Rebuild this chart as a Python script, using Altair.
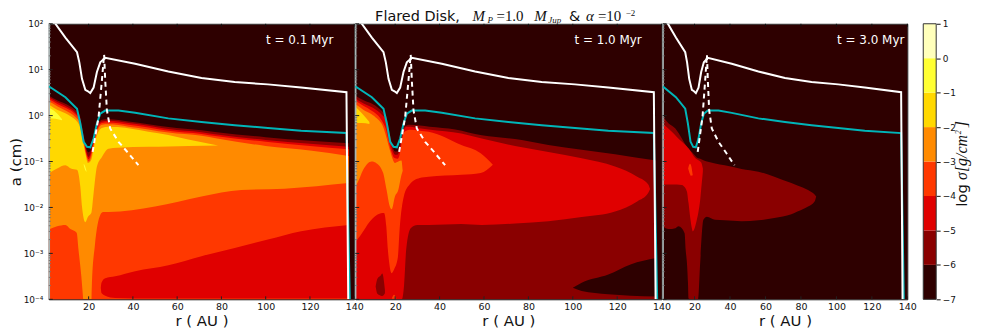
import altair as alt
import pandas as pd

# ---- colour levels of the colour bar (log sigma) ----
LEVELS = [-7, -6, -5, -4, -3, -2, -1, 0, 1]
C_BG, C_6, C_5, C_4, C_3, C_2, C_1, C_0 = ("#2e0000", "#8a0000", "#e00000", "#ff3800",
                                           "#ff8a00", "#ffd800", "#ffff33", "#ffffbb")
BAND_COLOURS = [C_BG, C_6, C_5, C_4, C_3, C_2, C_1, C_0]

# ---- lines (same in all panels): r in AU, log10 a in cm ----
WHITE_R = [4.6, 5, 9.5, 14.75, 15.8, 17, 18.5, 19.7, 20.75, 22.25, 23.75, 25.25, 27.5, 41, 56, 71, 86, 101, 116, 136.5, 137.3]
WHITE_A = [2.05, 2.0, 1.70, 1.38, 1.16, 0.80, 0.56, 0.53, 0.49, 0.61, 0.95, 1.16, 1.26, 1.13, 0.96, 0.82, 0.73, 0.68, 0.61, 0.51, -4]
TEAL_R = [2, 9.5, 14.75, 16.25, 17.75, 19.25, 20.75, 22.25, 23.75, 25.25, 27.5, 33.5, 41, 56, 71, 86, 101, 116, 136.5, 138]
TEAL_A = [0.64, 0.40, 0.15, -0.17, -0.57, -0.68, -0.69, -0.5, -0.17, 0.04, 0.11, 0.11, 0.06, -0.06, -0.14, -0.21, -0.27, -0.33, -0.38, -4]
DASH_R = [21.8, 24.5, 26, 27, 27.5, 28.25, 29.75, 33.5, 38, 42.5]
DASH_A = [-0.79, -0.03, 0.77, 1.33, 0.77, 0.12, -0.28, -0.57, -0.82, -1.08]

# ---- panel 1 (t = 0.1 Myr) ----
P1_R = [2, 6, 10, 14, 16, 17, 18, 19, 20, 21, 22, 23, 24, 26, 29, 38, 47, 56, 71, 78, 100, 120, 137.5]
P1_L6 = [.44, .33, .25, .12, .0, -.25, -.5, -.72, -.80, -.74, -.55, -.35, -.2, -.09, -.08, -.13, -.19, -.25, -.32, -.36, -.47, -.55, -.60]
P1_L5 = [.40, .29, .2, .07, -.05, -.3, -.55, -.78, -.9, -.8, -.6, -.4, -.24, -.13, -.11, -.16, -.22, -.29, -.36, -.41, -.53, -.61, -.68]
P1_L4 = [.36, .25, .16, .03, -.1, -.35, -.6, -.83, -.95, -.86, -.65, -.45, -.28, -.16, -.15, -.2, -.26, -.33, -.40, -.45, -.57, -.66, -.73]
P1_L3 = [.31, .2, .1, -.03, -.15, -.4, -.65, -.88, -1.0, -.92, -.7, -.5, -.33, -.2, -.19, -.24, -.3, -.37, -.44, -.5, -.66, -.76, -.88]
P1_G_R = [2, 5.75, 9.5, 12, 14.75, 16.25, 17, 18.5, 19.7, 21.2, 22.25, 23.75, 26, 29, 33, 47, 56, 65, 78.5]
P1_G_T = [.24, .13, .05, -.02, -.13, -.27, -.45, -.82, -1.03, -.96, -.72, -.43, -.27, -.24, -.25, -.35, -.42, -.52, -.65]
P1_G_B = [-1.26, -1.15, -1.08, -1.15, -1.18, -1.55, -1.98, -2.32, -2.2, -2.12, -1.69, -1.11, -.9, -.72, -.70, -.68, -.67, -.66, -.65]
P1_Y_R = [2, 5, 8]
P1_Y_T = [.17, .08, -.08]
P1_Y_B = [-.05, -.07, -.10]
P1_Y2_R = [17.8, 18.4, 19]
P1_Y2_T = [-1.05, -1.1, -1.2]
P1_Y2_B = [-1.08, -1.18, -1.23]
P1_LL_R = [2, 5.75, 9.5, 11.75, 14.6, 15.4, 16.7, 17.5]
P1_LL_T = [-2.48, -2.41, -2.38, -2.47, -2.55, -2.91, -3.5, -3.98]
P1_RL_R = [21.3, 21.5, 22.8, 25.3, 26.5, 29, 50, 71, 89, 108.5, 137.5]
P1_RL_T = [-3.98, -3.63, -2.84, -2.16, -2.1, -2.1, -1.98, -1.76, -1.62, -1.59, -1.47]
P1_RD_R = [25.5, 25.8, 27.5, 32, 41, 56, 71, 86, 101, 116, 137.5]
P1_RD_T = [-3.75, -3.64, -3.54, -3.5, -3.39, -3.26, -3.06, -2.88, -2.7, -2.52, -2.38]
P1_RD_B = [-3.75, -3.86, -3.92, -3.97, -3.98, -3.98, -3.98, -3.98, -3.98, -3.98, -3.98]

# ---- panel 2 (t = 1.0 Myr) ----
P2_L6_R = [2, 6, 10, 14, 16, 17, 18, 19, 20, 21, 22, 23, 24, 26.6, 35.5, 47, 59, 77, 89, 119, 137.5]
P2_L6_T = [.44, .33, .25, .1, -.02, -.25, -.5, -.7, -.78, -.78, -.65, -.4, -.24, -.2, -.24, -.30, -.43, -.53, -.64, -.84, -.98]
P2_L5_R = [2, 6, 10, 14, 16, 17, 18, 19, 20, 21, 22, 23, 24, 25, 27, 30, 35, 49.8, 59, 74, 89, 104, 119, 129, 134, 134.8]
P2_L5_T = [.38, .26, .17, .02, -.1, -.35, -.6, -.78, -.85, -.85, -.75, -.5, -.3, -.24, -.24, -.27, -.3, -.39, -.5, -.66, -.79, -.93, -1.11, -1.33, -1.5, -1.6]
P2_L5_B = [-4, -4, -4, -4, -4, -4, -4, -4, -4, -4, -4, -4, -3.7, -2.9, -2.45, -2.38, -2.38, -2.36, -2.38, -2.35, -2.30, -2.21, -2.09, -1.87, -1.68, -1.6]
P2_L4_R = [2, 4.2, 8.7, 13.2, 15, 16, 16.7, 17.3, 18.4, 19.5, 21.2, 22, 23.9, 26.5, 31, 35, 49.8, 58.5, 64]
P2_L4_T = [.33, .26, .13, -.05, -.2, -.33, -.48, -.6, -.8, -.92, -.94, -.85, -.37, -.31, -.33, -.35, -.64, -.82, -1.07]
P2_L4_B = [-2.75, -2.62, -2.3, -2.13, -2.12, -2.41, -2.91, -3.2, -3.43, -3.35, -3.09, -2.48, -1.76, -1.5, -1.36, -1.33, -1.29, -1.25, -1.07]
P2_L3_R = [2, 3, 5.6, 9.4, 11.7, 14.6, 16.1, 17.6, 18.4, 19.9, 21.4, 22.8, 23.4]
P2_L3_T = [.25, .22, .13, .03, -.06, -.25, -.48, -.75, -.88, -1.03, -1.0, -.98, -1.2]
P2_L3_B = [-1.54, -1.47, -1.18, -1.0, -1.04, -1.25, -1.61, -1.98, -2.04, -1.76, -1.62, -1.3, -1.2]
P2_L2_R = [2, 5, 8.4]
P2_L2_T = [.2, .05, -.14]
P2_L2_B = [-.16, -.16, -.18]
P2_IS_R = [11.2, 12, 13.5, 14.2, 15.4]
P2_IS_T = [-3.72, -3.55, -3.48, -3.44, -3.8]
P2_IS_B = [-3.72, -3.88, -3.92, -3.93, -3.87]
P2_OS_R = [18.5, 19.5, 20.5]
P2_OS_T = [-3.98, -3.9, -3.98]
P2_OS_B = [-3.99, -3.99, -3.99]
P2_DK_R = [100, 104, 116, 126, 137.5]
P2_DK_T = [-3.75, -3.64, -3.46, -3.24, -3.1]
P2_DK_B = [-3.75, -3.82, -3.89, -3.92, -3.94]

# ---- panel 3 (t = 3.0 Myr) ----
P3_L6_R = [2, 5.4, 9.2, 11, 14.4, 15, 15.7, 16.3, 16.6, 18.5, 22, 23.2, 25, 27, 31.6, 37, 46.5, 56, 65, 74.6, 78, 84, 87.7, 88.6]
P3_L6_T = [-.01, -.17, -.28, -.38, -.6, -.64, -.68, -.72, -.73, -.79, -.93, -.94, -.97, -1.0, -1.04, -1.08, -1.16, -1.22, -1.33, -1.47, -1.52, -1.62, -1.72, -1.76]
P3_L6_B = [-2.41, -2.47, -2.45, -2.41, -2.56, -2.92, -3.2, -3.64, -3.98, -4, -4, -3.2, -2.27, -2.2, -2.27, -2.28, -2.30, -2.28, -2.23, -2.15, -2.09, -1.98, -1.87, -1.76]
P3_L5_R = [2, 7.2, 12.9, 13.8, 15.7, 16.6, 17.5, 18.5, 19, 21.3, 22.2, 23.2, 24, 24.7]
P3_L5_T = [-.17, -.35, -.57, -.6, -.67, -.71, -.76, -.82, -.85, -.95, -.97, -1.0, -1.04, -1.15]
P3_L5_B = [-1.5, -1.5, -1.51, -1.53, -1.65, -1.9, -2.2, -2.45, -2.52, -2.27, -2.1, -1.83, -1.5, -1.22]
P3_L4_R = [16.4, 17.4, 18, 19]
P3_L4_T = [-1.15, -1.05, -1.08, -1.3]
P3_L4_B = [-1.15, -1.27, -1.31, -1.3]

FLOOR = -4
TIME_LABELS = ["t = 0.1 Myr", "t = 1.0 Myr", "t = 3.0 Myr"]
R_TICKS = [20, 40, 60, 80, 100, 120, 140]
A_TICKS = [1e-4, 1e-3, 1e-2, 1e-1, 1, 10, 100]
A_MINOR = [m * d for d in [1e-4, 1e-3, 1e-2, 1e-1, 1, 10] for m in [2, 3, 4, 5, 6, 7, 8, 9]]

# ---- layout ----
H = 277
WIDTHS = [307, 308, 246]
TIME_RIGHT = [286, 288, 243]
FONT = "DejaVu Sans"
MATH = "Liberation Serif"
x_scale = alt.Scale(domain=[2, 140], nice=False)
y_scale = alt.Scale(type="log", domain=[1e-4, 100], nice=False)
AXIS_EXPR = ("{'-4':'10⁻⁴','-3':'10⁻³','-2':'10⁻²','-1':'10⁻¹','0':'10⁰','1':'10¹','2':'10²'}"
             "['' + round(log(datum.value) / LN10)]")


def band(spec, xa, ya):
    rs, top, bottom, colour = spec
    bot = bottom if isinstance(bottom, list) else [bottom] * len(rs)
    df = pd.DataFrame({"r": rs, "a": [10.0 ** v for v in top], "a2": [10.0 ** v for v in bot]})
    return alt.Chart(df).mark_area(color=colour, orient="vertical", clip=True, interpolate="monotone", opacity=1).encode(
        x=alt.X("r:Q", scale=x_scale, axis=xa),
        y=alt.Y("a:Q", scale=y_scale, axis=ya),
        y2="a2:Q",
    )


def curve(rs, vals, colour, xa, ya, dash=None):
    df = pd.DataFrame({"r": rs, "a": [10.0 ** v for v in vals], "i": list(range(len(rs)))})
    kw = {"strokeDash": dash} if dash else {}
    return alt.Chart(df).mark_line(color=colour, strokeWidth=2, clip=True, **kw).encode(
        x=alt.X("r:Q", scale=x_scale, axis=xa),
        y=alt.Y("a:Q", scale=y_scale, axis=ya),
        order="i:Q",
    )


def label(text, x, y, size, font=FONT, style=None, angle=None, colour="#111111", align="left", base="alphabetic"):
    kw = {}
    if style:
        kw["fontStyle"] = style
    if angle is not None:
        kw["angle"] = angle
    return alt.Chart(pd.DataFrame({"t": [text]})).mark_text(
        font=font, fontSize=size, color=colour, align=align, baseline=base, **kw
    ).encode(x=alt.value(x), y=alt.value(y), text="t:N")


def frame(xa, ya):
    dfx = pd.DataFrame({"r": R_TICKS})
    dfy = pd.DataFrame({"a": A_TICKS})
    dfm = pd.DataFrame({"a": A_MINOR})
    xe = alt.X("r:Q", scale=x_scale, axis=xa)
    ye = alt.Y("a:Q", scale=y_scale, axis=ya)
    one = pd.DataFrame({"k": [0]})
    return [
        alt.Chart(dfx).mark_rule(color="#222222", strokeWidth=1).encode(x=xe, y=alt.value(H), y2=alt.value(H - 3)),
        alt.Chart(dfx).mark_rule(color="#111111", strokeWidth=1).encode(x=xe, y=alt.value(0), y2=alt.value(3)),
        alt.Chart(one).mark_rule(color="#a8b4b4", strokeWidth=1.5).encode(x=alt.value(0.5), y=alt.value(0), y2=alt.value(H)),
        alt.Chart(dfm).mark_rule(color="#777777", strokeWidth=1).encode(y=ye, x=alt.value(0), x2=alt.value(2)),
        alt.Chart(dfy).mark_rule(color="#222222", strokeWidth=1).encode(y=ye, x=alt.value(0), x2=alt.value(4)),
    ]


x_axis = alt.Axis(values=R_TICKS, title="r ( AU )", titleFont=FONT, titleFontSize=15, titleFontWeight="normal",
                  titleColor="#111111", titlePadding=3, labelFont=FONT, labelFontSize=9.5, labelColor="#111111",
                  labelPadding=2, labelOverlap=False, labelBound=False, labelFlush=False, ticks=False, domain=False,
                  grid=False, format="d")
y_axis = alt.Axis(values=A_TICKS, title="a (cm)", titleFont=FONT, titleFontSize=15, titleFontWeight="normal",
                  titleColor="#111111", titlePadding=0, labelFont=FONT, labelFontSize=9, labelColor="#111111",
                  labelPadding=6, labelOverlap=False, labelBound=False, labelFlush=False, ticks=False, domain=False,
                  grid=False, labelExpr=AXIS_EXPR)

p1_bands = [
    (P1_R, P1_L6, FLOOR, C_6),
    (P1_R, P1_L5, FLOOR, C_5),
    (P1_R, P1_L4, FLOOR, C_4),
    (P1_R, P1_L3, FLOOR, C_3),
    (P1_G_R, P1_G_T, P1_G_B, C_2),
    (P1_Y_R, P1_Y_T, P1_Y_B, C_1),
    (P1_Y2_R, P1_Y2_T, P1_Y2_B, C_1),
    (P1_LL_R, P1_LL_T, FLOOR, C_4),
    (P1_RL_R, P1_RL_T, FLOOR, C_4),
    (P1_RD_R, P1_RD_T, P1_RD_B, C_5),
]
p2_bands = [
    (P2_L6_R, P2_L6_T, FLOOR, C_6),
    (P2_L5_R, P2_L5_T, P2_L5_B, C_5),
    (P2_L4_R, P2_L4_T, P2_L4_B, C_4),
    (P2_L3_R, P2_L3_T, P2_L3_B, C_3),
    (P2_L2_R, P2_L2_T, P2_L2_B, C_2),
    (P2_IS_R, P2_IS_T, P2_IS_B, C_6),
    (P2_OS_R, P2_OS_T, P2_OS_B, C_4),
    (P2_DK_R, P2_DK_T, P2_DK_B, C_BG),
]
p3_bands = [
    (P3_L6_R, P3_L6_T, P3_L6_B, C_6),
    (P3_L5_R, P3_L5_T, P3_L5_B, C_5),
    (P3_L4_R, P3_L4_T, P3_L4_B, C_4),
]

# title pieces, placed relative to the middle panel
title_parts = [
    label("Flared Disk,", 20, -3, 14.5),
    label("M", 118, -3, 15, MATH, "italic"),
    label("P", 133, -1, 9, MATH, "italic"),
    label("=1.0", 142, -3, 15, MATH),
    label("M", 180, -3, 15, MATH, "italic"),
    label("Jup", 194, -1, 9, MATH, "italic"),
    label("&", 215, -3, 14.5),
    label("α", 232, -3, 15, MATH, "italic"),
    label("=10", 244, -3, 15, MATH),
    label("−2", 272, -8, 9, MATH),
]

PANEL_VIEW = alt.ViewBackground(fill=C_BG, stroke="#333333", strokeWidth=1)


def panel(bands, i, ya, extra=()):
    w = WIDTHS[i]
    layers = [band(b, x_axis, ya) for b in bands]
    lines = [curve(TEAL_R, TEAL_A, "#00b5b8", x_axis, ya), curve(WHITE_R, WHITE_A, "#ffffff", x_axis, ya),
             curve(DASH_R, DASH_A, "#ffffff", x_axis, ya, [5, 4])]
    txt = [label(TIME_LABELS[i], TIME_RIGHT[i], 20, 12, colour="#ffffff", align="right")]
    return alt.layer(*layers, *frame(x_axis, ya), *lines, *txt, *extra).properties(width=w, height=H, view=PANEL_VIEW)


# colour bar: the strip occupies the right part of its own narrow view
CB_W = 28
CB_STRIP = 13
cb_df = pd.DataFrame({"lo": LEVELS[:-1], "hi": LEVELS[1:], "c": BAND_COLOURS})
cb_axis = alt.Axis(values=LEVELS, orient="right", title=None, labelFont=FONT, labelFontSize=9, labelColor="#111111",
                   labelPadding=2, labelOverlap=False, labelBound=False, labelFlush=False, tickSize=4,
                   tickColor="#111111", domain=False, grid=False, format="d",
                   labelExpr="replace(datum.label, '-', '−')")
cb = alt.Chart(cb_df).mark_rect().encode(
    x=alt.value(CB_W - CB_STRIP), x2=alt.value(CB_W),
    y=alt.Y("lo:Q", scale=alt.Scale(domain=[-7, 1], nice=False), axis=cb_axis),
    y2="hi:Q",
    color=alt.Color("c:N", scale=None),
)
cb_box = alt.Chart(pd.DataFrame({"k": [0]})).mark_rect(fill="transparent", stroke="#333333", strokeWidth=1).encode(
    x=alt.value(CB_W - CB_STRIP), x2=alt.value(CB_W), y=alt.value(0), y2=alt.value(H)
)
cb_text = [
    label("log", 59, 184, 15, angle=270),
    label("σ[g/cm", 59, 157, 16, MATH, "italic", angle=270),
    label("2", 53, 111, 8, MATH, "italic", angle=270),
    label("]", 59, 104, 16, MATH, "italic", angle=270),
]
colourbar = alt.layer(cb, cb_box, *cb_text).properties(
    width=CB_W, height=H, view=alt.ViewBackground(stroke="transparent")
)

chart = alt.hconcat(
    panel(p1_bands, 0, y_axis),
    panel(p2_bands, 1, None, title_parts),
    panel(p3_bands, 2, None),
    colourbar,
    spacing=1,
    bounds="flush",
).properties(padding={"left": -1, "top": -1, "right": 2, "bottom": 0})

chart.save("out.html", embed_options={"renderer": "svg", "actions": False})
